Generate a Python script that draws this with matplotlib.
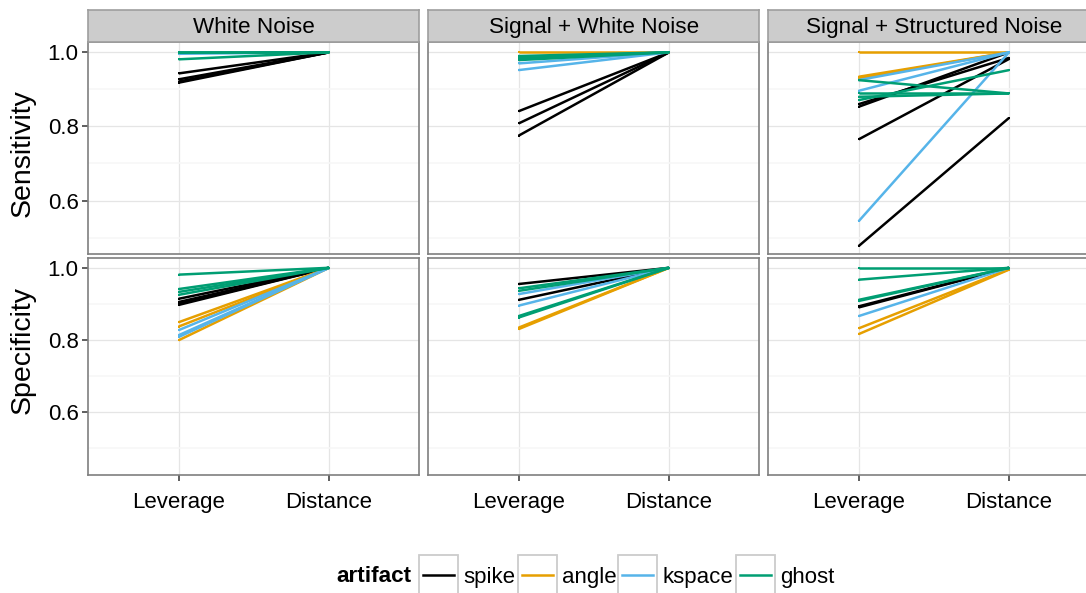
import matplotlib.pyplot as plt
from matplotlib.patches import Rectangle
from matplotlib.lines import Line2D

plt.rcParams['font.family'] = ['Liberation Sans', 'DejaVu Sans']

artifacts = ['spike', 'angle', 'kspace', 'ghost']
colors = ['#000000', '#E69F00', '#56B4E9', '#009E73']
methods = ['Leverage', 'Distance']
conditions = ['White Noise', 'Signal + White Noise', 'Signal + Structured Noise']
measures = ['Sensitivity', 'Specificity']

# artifact -> (leverage values, distance values)
sens_white = {
    'spike': ([0.943, 0.927, 0.921, 0.918], [1.0, 1.0, 1.0, 1.0]),
    'angle': ([1.0, 1.0], [1.0, 1.0]),
    'kspace': ([0.996, 1.0], [1.0, 1.0]),
    'ghost': ([1.0, 0.999, 0.981], [1.0, 1.0, 1.0]),
}
sens_signal = {
    'spike': ([0.841, 0.808, 0.775], [1.0, 1.0, 1.0]),
    'angle': ([1.0], [1.0]),
    'kspace': ([0.985, 0.970, 0.952], [1.0, 1.0, 1.0]),
    'ghost': ([0.990, 0.984, 0.979], [1.0, 1.0, 1.0]),
}
sens_struct = {
    'spike': ([0.853, 0.860, 0.765, 0.477], [1.0, 0.985, 0.982, 0.823]),
    'angle': ([1.0, 0.934, 0.930], [1.0, 1.0, 1.0]),
    'kspace': ([0.925, 0.896, 0.544], [1.0, 1.0, 1.0]),
    'ghost': ([0.925, 0.889, 0.880, 0.871], [0.889, 0.889, 0.889, 0.952]),
}
spec_white = {
    'spike': ([0.914, 0.905, 0.900, 0.897], [1.0, 1.0, 1.0, 1.0]),
    'angle': ([0.849, 0.837, 0.799], [1.0, 1.0, 1.0]),
    'kspace': ([0.827, 0.813, 0.808], [1.0, 1.0, 1.0]),
    'ghost': ([0.981, 0.941, 0.933, 0.925], [1.0, 1.0, 1.0, 1.0]),
}
spec_signal = {
    'spike': ([0.955, 0.911], [1.0, 1.0]),
    'angle': ([0.834, 0.830], [1.0, 1.0]),
    'kspace': ([0.927, 0.895], [1.0, 1.0]),
    'ghost': ([0.943, 0.936, 0.866, 0.862], [1.0, 1.0, 1.0, 1.0]),
}
spec_struct = {
    'spike': ([0.893, 0.890], [1.0, 1.0]),
    'angle': ([0.832, 0.816], [0.996, 0.995]),
    'kspace': ([0.866], [1.0]),
    'ghost': ([1.0, 0.967, 0.911, 0.908], [1.0, 1.0, 1.0, 1.0]),
}
panels = [[sens_white, sens_signal, sens_struct],
          [spec_white, spec_signal, spec_struct]]

W, H = 1086, 593


def box(x0, y0, x1, y1):
    # pixel box (top-left origin) -> figure fraction rect
    return [x0 / W, 1 - y1 / H, (x1 - x0) / W, (y1 - y0) / H]


fig = plt.figure(figsize=(W / 100, H / 100), dpi=100)

col_x = [88.3, 428.3, 768.3]
pw = 331
rows = [(42.3, 254.3), (257.7, 475.0)]
ylims = [(0.455, 1.027), (0.4255, 1.028)]
ylab_y = [153, 350]

for r in range(2):
    for c in range(3):
        ax = fig.add_axes(box(col_x[c], rows[r][0], col_x[c] + pw, rows[r][1]))
        data = panels[r][c]
        for art, col in zip(artifacts, colors):
            lev, dist = data[art]
            for a, b in zip(lev, dist):
                ax.plot([1, 2], [a, b], color=col, lw=1.8, solid_capstyle='butt',
                        marker='s', ms=1.7, mew=0, zorder=3)
        ax.set_xlim(0.4, 2.6)
        ax.set_ylim(*ylims[r])
        ax.set_xticks([1, 2])
        ax.set_yticks([0.6, 0.8, 1.0])
        ax.set_yticks([0.5, 0.7, 0.9], minor=True)
        ax.grid(which='major', color='#E5E5E5', lw=0.9, zorder=0)
        ax.grid(which='minor', axis='y', color='#F7F7F7', lw=1.2, zorder=0)
        ax.set_axisbelow(True)
        for sp in ax.spines.values():
            sp.set_color('#7F7F7F')
            sp.set_linewidth(1.2)
        ax.tick_params(which='minor', length=0)
        ax.tick_params(which='major', length=4, width=1.1, color='#333333',
                       labelsize=16, pad=3)
        if c == 0:
            ax.set_yticklabels(['0.6', '0.8', '1.0'])
        else:
            ax.tick_params(axis='y', left=False, labelleft=False)
        if r == 1:
            ax.set_xticklabels(methods)
            ax.tick_params(axis='x', pad=8)
        else:
            ax.tick_params(axis='x', bottom=False, labelbottom=False)

        if r == 0:
            st = fig.add_axes(box(col_x[c], 10, col_x[c] + pw, 42.3))
            st.set_facecolor('#CCCCCC')
            st.set_xticks([])
            st.set_yticks([])
            for sp in st.spines.values():
                sp.set_color('#9E9E9E')
                sp.set_linewidth(1.2)
            st.text(0.5, 0.47, conditions[c], ha='center', va='center',
                    fontsize=16.2, transform=st.transAxes)

    fig.text(22.5 / W, 1 - ylab_y[r] / H, measures[r], rotation=90,
             ha='center', va='center', fontsize=20.5)

# legend along the bottom
ly = 577
fig.text(336 / W, 1 - ly / H, 'artifact', fontsize=16.2, fontweight='bold',
         ha='left', va='center')
key_x = [419, 518, 618, 736]
for kx, art, col in zip(key_x, artifacts, colors):
    fig.patches.append(Rectangle((kx / W, 1 - 597 / H), 39 / W, 42 / H,
                                 transform=fig.transFigure, facecolor='white',
                                 edgecolor='#CCCCCC', lw=1.3))
    fig.lines.append(Line2D([(kx + 4) / W, (kx + 35) / W], [1 - 575 / H] * 2,
                            transform=fig.transFigure, color=col, lw=1.8))
    fig.text((kx + 44) / W, 1 - ly / H, art, fontsize=16, ha='left', va='center')

fig.savefig('out.png', dpi=100)
